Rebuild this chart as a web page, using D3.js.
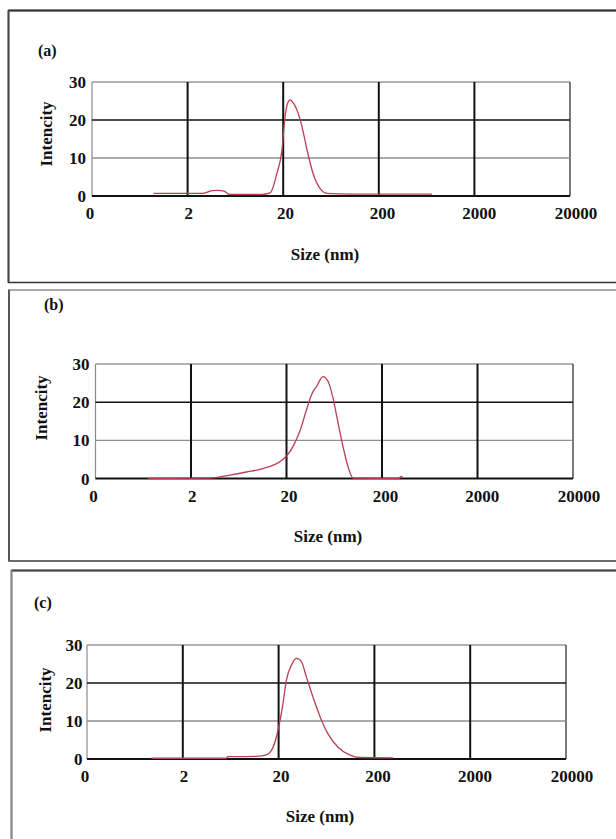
<!DOCTYPE html>
<html>
<head>
<meta charset="utf-8">
<script src="https://cdn.jsdelivr.net/npm/d3@7"></script>
<style>
  html, body { margin: 0; padding: 0; background: #fff; }
  svg { display: block; }
  text { font-family: "Liberation Serif", "Times New Roman", serif; font-weight: bold; fill: #111; }
</style>
</head>
<body>
<script>
// ---- Data ----
const panelLabels = ["(a)", "(b)", "(c)"];
const xTickValues = [0.2, 2, 20, 200, 2000, 20000];
const xTickLabels = ["0", "2", "20", "200", "2000", "20000"];
const yTickValues = [0, 10, 20, 30];
const xTitle = "Size (nm)";
const yTitle = "Intencity";

const sizesA = [0.88, 2.9, 3.2, 3.6, 4.1, 4.8, 5.5, 12, 14.6, 17.2, 19.4, 20.9, 22.3, 23.6, 25.5, 27.9, 31.5, 35.5, 41, 48.5, 57.4, 100, 300, 720];
const valuesA = [0.7, 0.7, 1.0, 1.4, 1.5, 1.3, 0.4, 0.4, 0.8, 6, 12, 20.9, 24.5, 25.3, 24.5, 22.6, 18.2, 12.1, 6, 2, 0.7, 0.5, 0.5, 0.5];

const sizesB = [0.71, 3.15, 5.1, 7.6, 11.3, 17.0, 20, 23.3, 27.5, 32.4, 36.5, 41.2, 48.3, 54.6, 61.5, 69.4, 78.3, 88.3, 99.6, 300, 315, 330];
const valuesB = [0, 0.1, 0.9, 1.7, 2.6, 4.4, 5.9, 8.3, 12.3, 18, 21.9, 24.1, 26.7, 25.4, 21, 14.5, 8.3, 3, 0.1, 0, 0.5, 0.4];

const sizesC = [0.94, 5.7, 5.9, 11.7, 14.9, 17.5, 19.7, 22.2, 24.1, 27.2, 30.7, 34.6, 39.0, 45.7, 53.7, 65.6, 83.4, 110, 141, 313];
const valuesC = [0.2, 0.2, 0.6, 0.7, 1.1, 3.1, 7.5, 14.5, 20.7, 24.7, 26.5, 25.6, 21.6, 16.3, 11.4, 6.6, 3.1, 1.1, 0.4, 0.3];

const seriesSizes = [sizesA, sizesB, sizesC];
const seriesValues = [valuesA, valuesB, valuesC];

// ---- Layout (not data) ----
const layout = [
  { frame: {x: 8.5, y: 10.5, w: 640, h: 272}, frameColor: "#333", topColor: "#333", leftColor: "#444",
    plot: {l: 92, r: 570, t: 82, b: 196}, lab: {x: 38, y: 56}, yLabX: 86, xLabY: 219, titleY: 260, titleX: 325, yTitleX: 46, yTitleY: 134 },
  { frame: {x: 9, y: 290, w: 640, h: 271}, frameColor: "#3a3a3a", topColor: "#aaa", leftColor: "#555",
    plot: {l: 95.5, r: 573, t: 364, b: 478.5}, lab: {x: 44, y: 310}, yLabX: 89.5, xLabY: 502, titleY: 542, titleX: 328, yTitleX: 41, yTitleY: 408 },
  { frame: {x: 11.5, y: 570.5, w: 640, h: 300}, frameColor: "#444", topColor: "#444", leftColor: "#888",
    plot: {l: 87, r: 566, t: 645, b: 759}, lab: {x: 34, y: 608}, yLabX: 82.5, xLabY: 782, titleY: 822, titleX: 320, yTitleX: 45, yTitleY: 700 }
];

const W = 616, H = 839;
const svg = d3.select("body").append("svg").attr("width", W).attr("height", H);

layout.forEach((L, i) => {
  const g = svg.append("g");
  const f = L.frame;
  // panel frame
  g.append("rect").attr("x", f.x).attr("y", f.y).attr("width", f.w).attr("height", f.h)
    .attr("fill", "none").attr("stroke", L.frameColor).attr("stroke-width", 1.5);
  g.append("line").attr("x1", f.x).attr("x2", f.x + f.w).attr("y1", f.y).attr("y2", f.y)
    .attr("stroke", L.topColor).attr("stroke-width", 2);
  g.append("line").attr("x1", f.x).attr("x2", f.x).attr("y1", f.y).attr("y2", f.y + f.h)
    .attr("stroke", L.leftColor).attr("stroke-width", 1.8);

  const P = L.plot;
  const x = d3.scaleLog().domain([0.2, 20000]).range([P.l, P.r]);
  const y = d3.scaleLinear().domain([0, 30]).range([P.b, P.t]);

  // plot border: top and left gray, right dark
  g.append("line").attr("x1", P.l).attr("x2", P.r).attr("y1", y(30)).attr("y2", y(30)).attr("stroke", "#9a9a9a").attr("stroke-width", 1.3);
  g.append("line").attr("x1", P.l).attr("x2", P.l).attr("y1", P.t).attr("y2", P.b).attr("stroke", "#8a8a8a").attr("stroke-width", 1.2);
  g.append("line").attr("x1", P.r).attr("x2", P.r).attr("y1", P.t).attr("y2", P.b).attr("stroke", "#333").attr("stroke-width", 1.3);

  // horizontal gridlines
  g.append("line").attr("x1", P.l).attr("x2", P.r).attr("y1", y(10)).attr("y2", y(10)).attr("stroke", "#8f8f8f").attr("stroke-width", 1.3);
  g.append("line").attr("x1", P.l).attr("x2", P.r).attr("y1", y(20)).attr("y2", y(20)).attr("stroke", "#111").attr("stroke-width", 1.5);

  // vertical gridlines
  g.selectAll(".vg").data(xTickValues.slice(1, 5)).enter().append("line")
    .attr("x1", d => x(d)).attr("x2", d => x(d)).attr("y1", P.t).attr("y2", P.b)
    .attr("stroke", "#111").attr("stroke-width", 2);

  // zero line
  g.append("line").attr("x1", P.l).attr("x2", P.r).attr("y1", y(0)).attr("y2", y(0)).attr("stroke", "#111").attr("stroke-width", 2);

  // y tick labels
  g.selectAll(".yl").data(yTickValues).enter().append("text")
    .attr("x", L.yLabX).attr("y", d => y(d) + 6).attr("text-anchor", "end")
    .attr("font-size", 17).text(d => d);

  // x tick labels
  g.selectAll(".xl").data(xTickValues).enter().append("text")
    .attr("x", (d, j) => x(d) + (j === 0 ? -2 : j * 1.2))
    .attr("y", L.xLabY).attr("text-anchor", "middle")
    .attr("font-size", 17).text((d, j) => xTickLabels[j]);

  // titles
  g.append("text").attr("x", L.titleX).attr("y", L.titleY).attr("text-anchor", "middle")
    .attr("font-size", 17).text(xTitle);
  g.append("text").attr("transform", `translate(${L.yTitleX},${L.yTitleY}) rotate(-90)`)
    .attr("text-anchor", "middle").attr("dy", "0.35em").attr("font-size", 17).text(yTitle);
  g.append("text").attr("x", L.lab.x).attr("y", L.lab.y).attr("font-size", 16).text(panelLabels[i]);

  // curve
  const pts = seriesSizes[i].map((s, k) => [s, seriesValues[i][k]]);
  const line = d3.line().x(d => x(d[0])).y(d => y(d[1])).curve(d3.curveMonotoneX);
  g.append("path").datum(pts).attr("d", line).attr("fill", "none")
    .attr("stroke", "#b8404e").attr("stroke-width", 1.3).attr("stroke-linejoin", "round");
});
</script>
</body>
</html>
